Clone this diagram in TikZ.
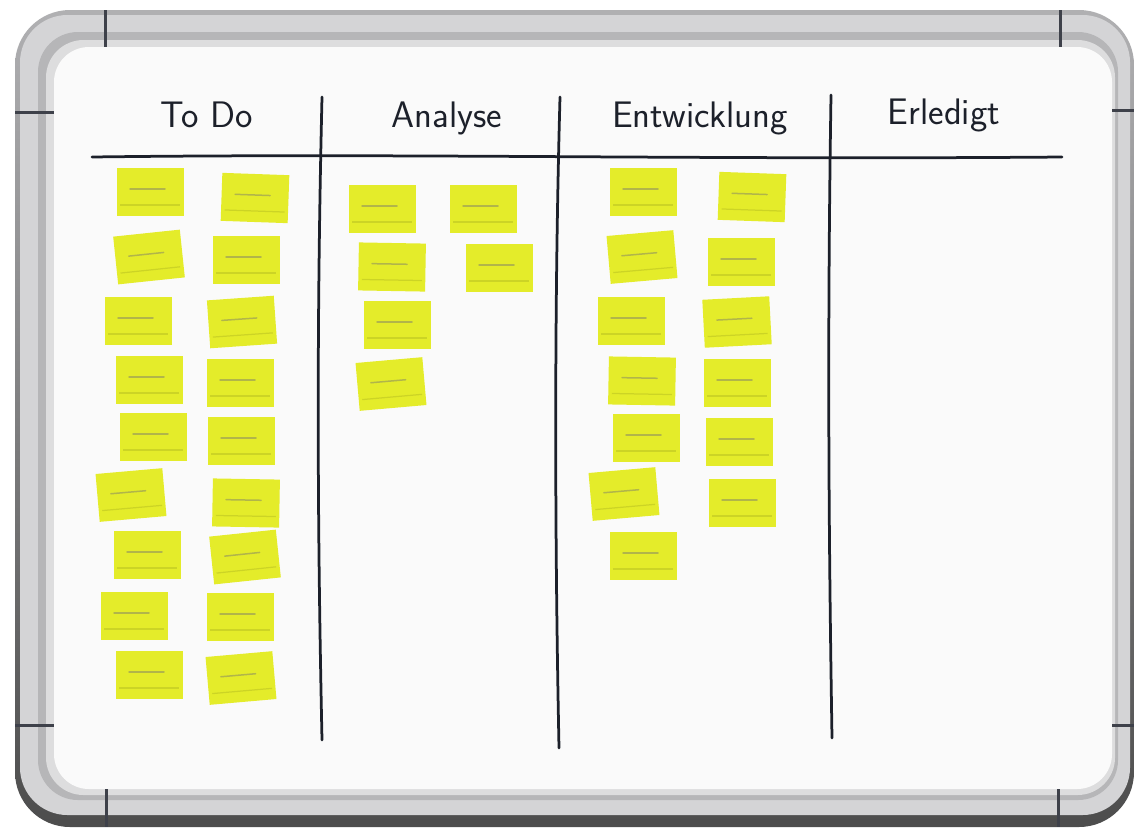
\documentclass[tikz,border=0pt]{standalone}
\usepackage{xcolor}
\usetikzlibrary{positioning}

\definecolor{noteyellow}{RGB}{228,236,42}
\definecolor{marker}{RGB}{28,32,42}
\definecolor{framedark}{RGB}{150,150,153}
\definecolor{framelight}{RGB}{212,212,214}

\begin{document}
\begin{tikzpicture}[x=0.2mm, y=-0.2mm,
	note/.style={fill=noteyellow, minimum width=13.4mm, minimum height=9.6mm, inner sep=0,
		path picture={
			\draw[black!55, line width=0.3mm, opacity=.45, line cap=round]
				([xshift=-4mm,yshift=0.6mm]path picture bounding box.center) -- ([xshift=3mm,yshift=0.6mm]path picture bounding box.center);
			\draw[noteyellow!80!black, line width=0.25mm, opacity=.5]
				([xshift=-6mm,yshift=-2.6mm]path picture bounding box.center) -- ([xshift=6mm,yshift=-2.6mm]path picture bounding box.center);
		}},
	head/.style={font=\sffamily\fontsize{21}{25}\selectfont, text=marker, anchor=base, inner sep=0},
	pen/.style={draw=marker, line width=0.55mm, line cap=round},
	joint/.style={draw=marker!85, line width=0.6mm}
]
\useasboundingbox (0,0) rectangle (1135,829);

% frame and board
\shade[top color=framedark!75, bottom color=black!70, rounded corners=11mm] (15,10) rectangle (1134,827);
\fill[framelight, rounded corners=9.5mm] (20,15) rectangle (1130,815);
\fill[framedark!70, rounded corners=8mm] (38,32) rectangle (1118,800);
\fill[framelight!80!white, rounded corners=7.5mm] (46,40) rectangle (1115,795);
\fill[white!96!gray, rounded corners=7mm] (54,47) rectangle (1112,789);

\draw[joint] (105,10) -- (105,47);
\draw[joint] (1060,10) -- (1060,47);
\draw[joint] (106,789) -- (106,827);
\draw[joint] (1058,789) -- (1058,827);
\draw[joint] (15,112) -- (54,112);
\draw[joint] (15,725) -- (54,725);
\draw[joint] (1112,110) -- (1134,110);
\draw[joint] (1112,725) -- (1134,725);

% hand drawn grid
\draw[pen] (92,157) .. controls (400,153) and (700,160) .. (1062,157);
\draw[pen] (322,97) .. controls (316,350) and (318,550) .. (322,740);
\draw[pen] (560,97) .. controls (553,350) and (556,600) .. (559,748);
\draw[pen] (831,95) .. controls (827,350) and (829,550) .. (832,738);

\node[head] (todo) at (207,127) {To Do};
\node[head] (analyse) at (447,127) {Analyse};
\node[head] (entw) at (700,127) {Entwicklung};
\node[head] (done) at (944,124) {Erledigt};

% sticky notes
\foreach \x/\y/\r [count=\i] in {150/192/0, 255/198/-2, 149/257/6, 246/260/0,
		138/321/0, 242/322/4, 149/380/0, 240/383/0, 153/437/0, 241/441/0,
		131/495/5, 246/503/-1, 147/555/0, 245/557/6, 134/616/0, 240/617/0,
		149/675/0, 241/678/5}
	\node[note, rotate=\r] (todo\i) at (\x,\y) {};

\foreach \x/\y/\r [count=\i] in {382/209/0, 483/209/0, 392/267/-1, 499/268/0,
		397/325/0, 391/384/5}
	\node[note, rotate=\r] (ana\i) at (\x,\y) {};

\foreach \x/\y/\r [count=\i] in {643/192/0, 752/197/-2, 642/257/5, 741/262/0,
		631/321/0, 737/322/3, 642/381/-1, 737/383/0, 646/438/0, 739/442/0,
		624/494/5, 742/503/0, 643/556/0}
	\node[note, rotate=\r] (entw\i) at (\x,\y) {};
\end{tikzpicture}
\end{document}
